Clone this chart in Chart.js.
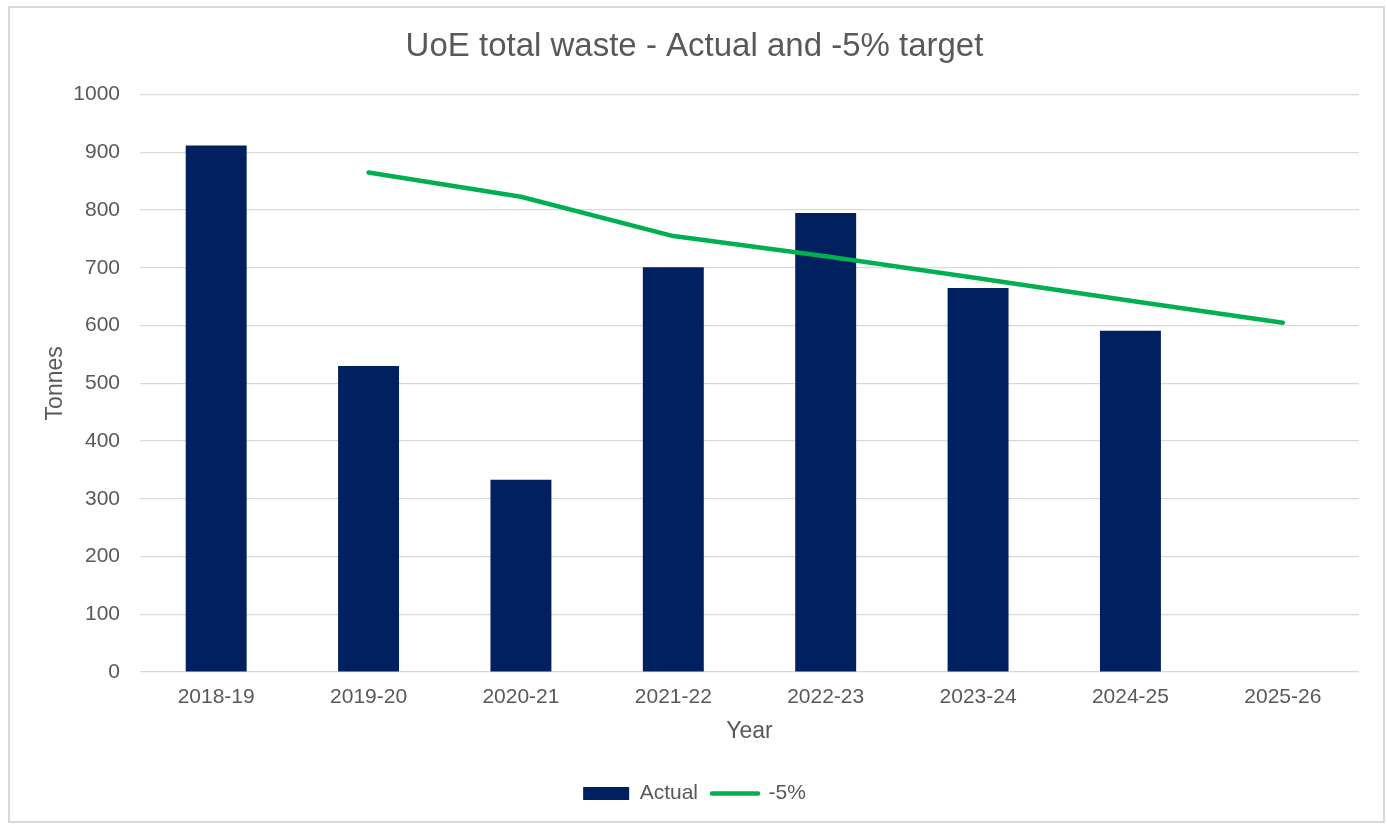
<!DOCTYPE html>
<html>
<head>
<meta charset="utf-8">
<title>UoE total waste</title>
<script src="https://cdn.jsdelivr.net/npm/chart.js@4.4.1/dist/chart.umd.min.js"></script>
<style>
    body { margin: 0; background: #fff; }
    .frame {
        position: absolute;
        left: 8px;
        top: 6px;
        width: 1377px;
        height: 817px;
        box-sizing: border-box;
        border: 2px solid #d9d9d9;
    }
</style>
</head>
<body>
<div class="frame">
    <canvas id="wasteChart"></canvas>
</div>
<script>
// Veriler
const years = ['2018-19', '2019-20', '2020-21', '2021-22', '2022-23', '2023-24', '2024-25', '2025-26'];
const actual = [912, 530, 333, 701, 795, 665, 591, null];
const target = [null, 865, 823, 755, 720, 682, 643, 605];
const yTicks = [0, 100, 200, 300, 400, 500, 600, 700, 800, 900, 1000];

const textColor = '#595959';
const fontFamily = '"Liberation Sans", Arial, sans-serif';

document.addEventListener('DOMContentLoaded', () => {
    const ctx = document.getElementById('wasteChart').getContext('2d');
    new Chart(ctx, {
        type: 'bar',
        data: {
            labels: years,
            datasets: [{
                label: 'Actual',
                data: actual,
                backgroundColor: '#002060',
                borderWidth: 0,
                categoryPercentage: 1,
                barPercentage: 0.4,
                order: 2
            }, {
                type: 'line',
                label: '-5%',
                data: target,
                borderColor: '#00B050',
                backgroundColor: '#00B050',
                borderWidth: 4.5,
                borderCapStyle: 'round',
                borderJoinStyle: 'round',
                pointRadius: 0,
                tension: 0,
                order: 1
            }]
        },
        options: {
            responsive: true,
            maintainAspectRatio: false,
            animation: false,
            layout: {
                padding: { left: 20, right: 24, top: 0, bottom: 7 }
            },
            scales: {
                x: {
                    grid: { display: false },
                    border: { display: false },
                    ticks: {
                        color: textColor,
                        padding: 5,
                        maxRotation: 0,
                        font: { family: fontFamily, size: 21 }
                    },
                    title: {
                        display: true,
                        text: 'Year',
                        color: textColor,
                        padding: { top: 8, bottom: 24 },
                        font: { family: fontFamily, size: 23 }
                    },
                    afterFit: (scale) => { scale.height = 97; }
                },
                y: {
                    min: 0,
                    max: 1000,
                    afterBuildTicks: (scale) => {
                        scale.ticks = yTicks.map(v => ({ value: v }));
                    },
                    grid: {
                        color: '#d9d9d9',
                        lineWidth: 1.2,
                        drawTicks: false
                    },
                    border: { display: false },
                    ticks: {
                        color: textColor,
                        padding: 20,
                        font: { family: fontFamily, size: 21 },
                        callback: (value) => String(value)
                    },
                    title: {
                        display: true,
                        text: 'Tonnes',
                        color: textColor,
                        padding: { top: 12, bottom: 0 },
                        font: { family: fontFamily, size: 23 }
                    },
                    afterFit: (scale) => { scale.width = 110; }
                }
            },
            plugins: {
                title: {
                    display: true,
                    text: 'UoE total waste - Actual and -5% target',
                    color: textColor,
                    padding: { top: 19, bottom: 28 },
                    font: { family: fontFamily, size: 33, weight: 'normal' }
                },
                legend: {
                    position: 'bottom',
                    labels: {
                        color: textColor,
                        font: { family: fontFamily, size: 21 },
                        usePointStyle: true,
                        pointStyleWidth: 46,
                        boxHeight: 13,
                        padding: 14,
                        sort: (a, b) => a.datasetIndex - b.datasetIndex,
                        generateLabels: (chart) => {
                            const items = Chart.defaults.plugins.legend.labels.generateLabels(chart);
                            items.forEach(item => {
                                if (item.datasetIndex === 0) {
                                    item.pointStyle = 'rect';
                                    item.fillStyle = '#002060';
                                    item.strokeStyle = '#002060';
                                    item.lineWidth = 0;
                                } else {
                                    item.pointStyle = 'line';
                                    item.strokeStyle = '#00B050';
                                    item.lineWidth = 4.5;
                                    item.lineCap = 'round';
                                }
                            });
                            return items;
                        }
                    }
                },
                tooltip: { enabled: false }
            }
        }
    });
});
</script>
</body>
</html>
